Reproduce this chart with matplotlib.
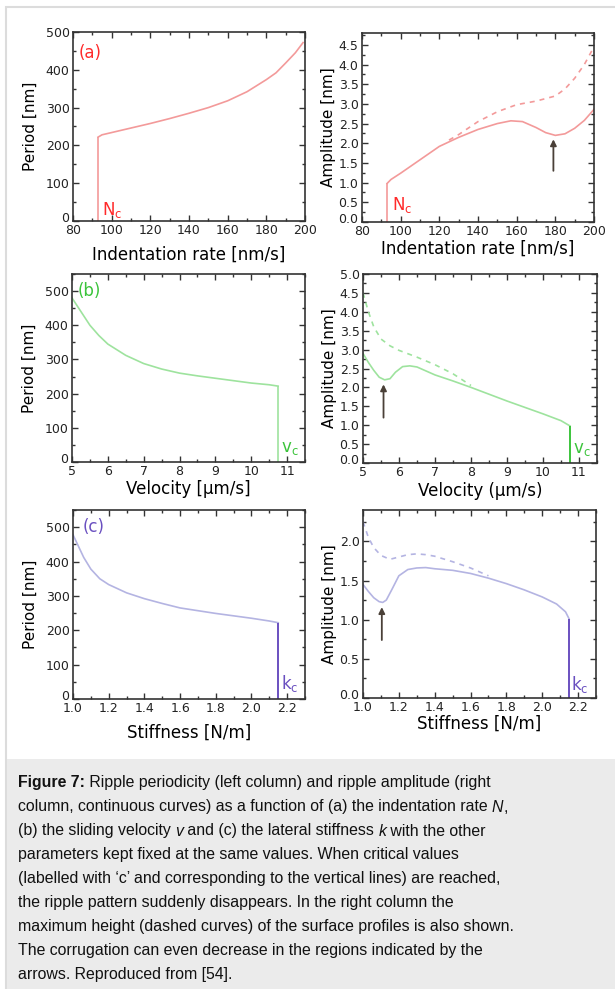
import numpy as np
import matplotlib.pyplot as plt
from matplotlib.ticker import MultipleLocator, FormatStrFormatter
from matplotlib.patches import Rectangle
from matplotlib.transforms import ScaledTranslation

# ---------------------------------------------------------------
# data
# ---------------------------------------------------------------
# (a) indentation rate
N_c = 93.0
a_rate = [93, 95, 100, 110, 120, 130, 140, 150, 160, 170, 180, 185, 190, 195, 199]
a_period = [222, 228, 234, 246, 258, 271, 285, 300, 318, 342, 374, 392, 418, 445, 472]
a_amp_rate = [93, 95, 100, 110, 120, 130, 140, 150, 157, 163, 170, 175, 180, 185, 190, 195, 200]
a_amp = [0.98, 1.08, 1.24, 1.58, 1.92, 2.15, 2.35, 2.5, 2.57, 2.55, 2.4, 2.27, 2.2, 2.24, 2.38, 2.58, 2.86]
a_hmax_rate = [125, 130, 140, 150, 160, 170, 180, 185, 190, 195, 200]
a_hmax = [2.08, 2.22, 2.55, 2.8, 2.98, 3.07, 3.2, 3.38, 3.65, 4.0, 4.45]
a_arrow = (179, 1.3, 2.1)

# (b) sliding velocity
v_c = 10.75
b_vel = [5, 5.25, 5.5, 5.75, 6, 6.5, 7, 7.5, 8, 8.5, 9, 9.5, 10, 10.5, 10.75]
b_period = [480, 440, 400, 370, 345, 312, 288, 272, 260, 252, 245, 238, 231, 226, 222]
b_amp_vel = [5, 5.15, 5.3, 5.45, 5.6, 5.75, 5.9, 6.1, 6.3, 6.5, 7, 7.5, 8, 8.5, 9, 9.5, 10, 10.5, 10.75]
b_amp = [2.9, 2.66, 2.45, 2.27, 2.2, 2.23, 2.4, 2.55, 2.57, 2.54, 2.33, 2.17, 2.0, 1.82, 1.64, 1.47, 1.3, 1.12, 0.98]
b_hmax_vel = [5, 5.15, 5.3, 5.5, 5.75, 6, 6.5, 7, 7.5, 8]
b_hmax = [4.5, 4.0, 3.6, 3.28, 3.1, 2.98, 2.8, 2.6, 2.36, 2.05]
b_arrow = (5.57, 1.2, 2.08)

# (c) lateral stiffness
k_c = 2.15
c_stiff = [1.0, 1.03, 1.06, 1.1, 1.15, 1.2, 1.3, 1.4, 1.5, 1.6, 1.7, 1.8, 1.9, 2.0, 2.1, 2.15]
c_period = [478, 445, 412, 378, 350, 333, 309, 292, 278, 265, 257, 249, 242, 235, 227, 222]
c_amp_stiff = [1.0, 1.03, 1.06, 1.09, 1.11, 1.13, 1.16, 1.2, 1.25, 1.3, 1.35, 1.4, 1.5, 1.6,
               1.7, 1.8, 1.9, 2.0, 2.08, 2.13, 2.15]
c_amp = [1.45, 1.36, 1.28, 1.23, 1.22, 1.25, 1.38, 1.56, 1.64, 1.66, 1.665, 1.65, 1.63, 1.59,
         1.53, 1.46, 1.38, 1.29, 1.2, 1.1, 1.01]
c_hmax_stiff = [1.0, 1.03, 1.06, 1.1, 1.15, 1.2, 1.25, 1.3, 1.35, 1.4, 1.5, 1.6, 1.7]
c_hmax = [2.25, 2.05, 1.92, 1.82, 1.77, 1.8, 1.83, 1.84, 1.83, 1.81, 1.74, 1.66, 1.56]
c_arrow = (1.105, 0.74, 1.16)

caption = [
    [("Figure 7:", "bold"), (" Ripple periodicity (left column) and ripple amplitude (right", "normal")],
    [("column, continuous curves) as a function of (a) the indentation rate ", "normal"),
     ("N", "italic"), (",", "normal")],
    [("(b) the sliding velocity ", "normal"), ("v", "italic"),
     (" and (c) the lateral stiffness ", "normal"), ("k", "italic"), (" with the other", "normal")],
    [("parameters kept fixed at the same values. When critical values", "normal")],
    [("(labelled with \u2018c\u2019 and corresponding to the vertical lines) are reached,", "normal")],
    [("the ripple pattern suddenly disappears. In the right column the", "normal")],
    [("maximum height (dashed curves) of the surface profiles is also shown.", "normal")],
    [("The corrugation can even decrease in the regions indicated by the", "normal")],
    [("arrows. Reproduced from [54].", "normal")],
]

# colours
red_line, red_txt = '#f39a9a', '#ff2a2a'
grn_line, grn_txt = '#9ee39e', '#3cc43c'
pur_line, pur_txt = '#b4b4e2', '#6a50c0'
arrow_col = '#4a4038'
spine_col = '#333333'

W, H = 615, 989
fig = plt.figure(figsize=(W/100, H/100), dpi=100)

def px_axes(l, t, r, b):
    return fig.add_axes([l/W, 1-b/H, (r-l)/W, (b-t)/H])

def style_axes(ax, xlim, ylim, xmaj, xmin, ymaj, ymin, yfmt, xfmt):
    ax.set_xlim(xlim)
    ax.set_ylim(ylim)
    ax.xaxis.set_major_locator(MultipleLocator(xmaj))
    ax.xaxis.set_minor_locator(MultipleLocator(xmin))
    ax.yaxis.set_major_locator(MultipleLocator(ymaj))
    ax.yaxis.set_minor_locator(MultipleLocator(ymin))
    ax.yaxis.set_major_formatter(FormatStrFormatter(yfmt))
    ax.xaxis.set_major_formatter(FormatStrFormatter(xfmt))
    ax.tick_params(which='both', direction='in', top=True, right=True,
                   labelsize=9, pad=2.5, color=spine_col, labelcolor='#222222')
    ax.tick_params(which='major', length=4, width=1)
    ax.tick_params(which='minor', length=2.5, width=1)
    for s in ax.spines.values():
        s.set_linewidth(1.2)
        s.set_color(spine_col)

def arrow(ax, a):
    x, y0, y1 = a
    ax.annotate('', xy=(x, y1), xytext=(x, y0),
                arrowprops=dict(arrowstyle='-|>', color=arrow_col, lw=1.3, mutation_scale=9,
                                shrinkA=0, shrinkB=0))

LBX, LBY = 12, 11
axes_all = []

# ---------------- (a) ----------------
ax = px_axes(73, 32, 305, 221)
ax.plot(a_rate, a_period, color=red_line, lw=1.2)
ax.vlines(N_c, 0, a_period[0], color=red_line, lw=1.2)
style_axes(ax, (80, 200), (0, 500), 20, 10, 100, 50, '%d', '%d')
ax.text(0.025, 0.89, '(a)', transform=ax.transAxes, color=red_txt, fontsize=12, va='center')
ax.text(95, 30, r'$\mathregular{N_c}$', color=red_txt, fontsize=12, va='center')
ax.set_xlabel('Indentation rate [nm/s]', fontsize=LBX)
ax.set_ylabel('Period [nm]', fontsize=LBY)
ax.xaxis.set_label_coords(0.5, -0.132)
ax.yaxis.set_label_coords(-0.151, 0.5)
axes_all.append(ax)

ax = px_axes(362, 33, 594, 222)
ax.plot(a_amp_rate, a_amp, color=red_line, lw=1.2)
ax.plot(a_hmax_rate, a_hmax, color=red_line, lw=1.2, ls=(0, (3, 3)))
ax.vlines(N_c, 0, a_amp[0], color=red_line, lw=1.2)
arrow(ax, a_arrow)
style_axes(ax, (80, 200), (0, 4.8), 20, 10, 0.5, 0.25, '%.1f', '%d')
ax.text(95.5, 0.42, r'$\mathregular{N_c}$', color=red_txt, fontsize=12, va='center')
ax.set_xlabel('Indentation rate [nm/s]', fontsize=LBX)
ax.set_ylabel('Amplitude [nm]', fontsize=LBY)
ax.xaxis.set_label_coords(0.5, -0.095)
ax.yaxis.set_label_coords(-0.112, 0.5)
axes_all.append(ax)

# ---------------- (b) ----------------
ax = px_axes(72, 274, 305, 462)
ax.plot(b_vel, b_period, color=grn_line, lw=1.2)
ax.vlines(v_c, 0, b_period[-1], color=grn_line, lw=1.2)
style_axes(ax, (5, 11.5), (0, 550), 1, 0.5, 100, 50, '%d', '%d')
ax.text(0.025, 0.91, '(b)', transform=ax.transAxes, color=grn_txt, fontsize=12, va='center')
ax.text(10.83, 40, r'$\mathregular{v_c}$', color=grn_txt, fontsize=12, va='center')
ax.set_xlabel('Velocity [\u00b5m/s]', fontsize=LBX)
ax.set_ylabel('Period [nm]', fontsize=LBY)
ax.xaxis.set_label_coords(0.5, -0.096)
ax.yaxis.set_label_coords(-0.151, 0.5)
axes_all.append(ax)

ax = px_axes(363, 274, 597, 463)
ax.plot(b_amp_vel, b_amp, color=grn_line, lw=1.2)
ax.plot(b_hmax_vel, b_hmax, color=grn_line, lw=1.2, ls=(0, (3, 3)))
ax.vlines(v_c, 0, b_amp[-1], color=grn_txt, lw=1.4)
arrow(ax, b_arrow)
style_axes(ax, (5, 11.5), (0, 5.0), 1, 0.5, 0.5, 0.25, '%.1f', '%d')
ax.text(10.82, 0.38, r'$\mathregular{v_c}$', color=grn_txt, fontsize=12, va='center')
ax.set_xlabel('Velocity (\u00b5m/s)', fontsize=LBX)
ax.set_ylabel('Amplitude [nm]', fontsize=LBY)
ax.xaxis.set_label_coords(0.5, -0.10)
ax.yaxis.set_label_coords(-0.112, 0.5)
axes_all.append(ax)

# ---------------- (c) ----------------
ax = px_axes(73, 510, 305, 699)
ax.plot(c_stiff, c_period, color=pur_line, lw=1.2)
ax.vlines(k_c, 0, c_period[-1], color=pur_txt, lw=1.4)
style_axes(ax, (1.0, 2.3), (0, 550), 0.2, 0.1, 100, 50, '%d', '%.1f')
ax.text(0.04, 0.91, '(c)', transform=ax.transAxes, color=pur_txt, fontsize=12, va='center')
ax.text(2.165, 45, r'$\mathregular{k_c}$', color=pur_txt, fontsize=12, va='center')
ax.set_xlabel('Stiffness [N/m]', fontsize=LBX)
ax.set_ylabel('Period [nm]', fontsize=LBY)
ax.xaxis.set_label_coords(0.5, -0.132)
ax.yaxis.set_label_coords(-0.151, 0.5)
axes_all.append(ax)

ax = px_axes(363, 510, 596, 698)
ax.plot(c_amp_stiff, c_amp, color=pur_line, lw=1.2)
ax.plot(c_hmax_stiff, c_hmax, color=pur_line, lw=1.2, ls=(0, (3, 3)))
ax.vlines(k_c, 0, c_amp[-1], color=pur_txt, lw=1.4)
arrow(ax, c_arrow)
style_axes(ax, (1.0, 2.3), (0, 2.4), 0.2, 0.1, 0.5, 0.25, '%.1f', '%.1f')
ax.text(2.16, 0.17, r'$\mathregular{k_c}$', color=pur_txt, fontsize=12, va='center')
ax.set_xlabel('Stiffness [N/m]', fontsize=LBX)
ax.set_ylabel('Amplitude [nm]', fontsize=LBY)
ax.xaxis.set_label_coords(0.5, -0.09)
ax.yaxis.set_label_coords(-0.112, 0.5)
axes_all.append(ax)

# ---------------- frame and caption box ----------------
fig.patches.append(Rectangle((5.5/W, -0.01), 1.0, 1 - 7.5/H + 0.01, transform=fig.transFigure,
                             fill=False, ec='#dcdcdc', lw=1.5))
fig.patches.append(Rectangle((6.5/W, 0), 1.0, (H - 759)/H, transform=fig.transFigure,
                             fc='#ebebeb', ec='none'))

renderer = fig.canvas.get_renderer()
cap_kw = dict(fontsize=11.4, family='Liberation Sans', color='#111111', va='center')

def run_width(txt, weight, style):
    # width incl. trailing spaces: measure with a sentinel glyph
    t1 = fig.text(0, 0, txt + '|', fontweight=weight, fontstyle=style, **cap_kw)
    t2 = fig.text(0, 0, '|', fontweight=weight, fontstyle=style, **cap_kw)
    w = t1.get_window_extent(renderer).width - t2.get_window_extent(renderer).width
    t1.remove(); t2.remove()
    return w

for i, line in enumerate(caption):
    x = 18.0
    y = 783 + 24 * i
    for txt, kind in line:
        weight = 'bold' if kind == 'bold' else 'normal'
        style = 'italic' if kind == 'italic' else 'normal'
        fig.text(x / W, 1 - y / H, txt, fontweight=weight, fontstyle=style, **cap_kw)
        x += run_width(txt, weight, style)

# the "0" of each y axis sits a little above the corner, as in the original
fig.canvas.draw()
lift = ScaledTranslation(0, 4/100, fig.dpi_scale_trans)
for ax in axes_all:
    for tick in ax.yaxis.get_major_ticks():
        if abs(tick.get_loc()) < 1e-9:
            tick.label1.set_transform(tick.label1.get_transform() + lift)

fig.savefig('out.png', dpi=100)
